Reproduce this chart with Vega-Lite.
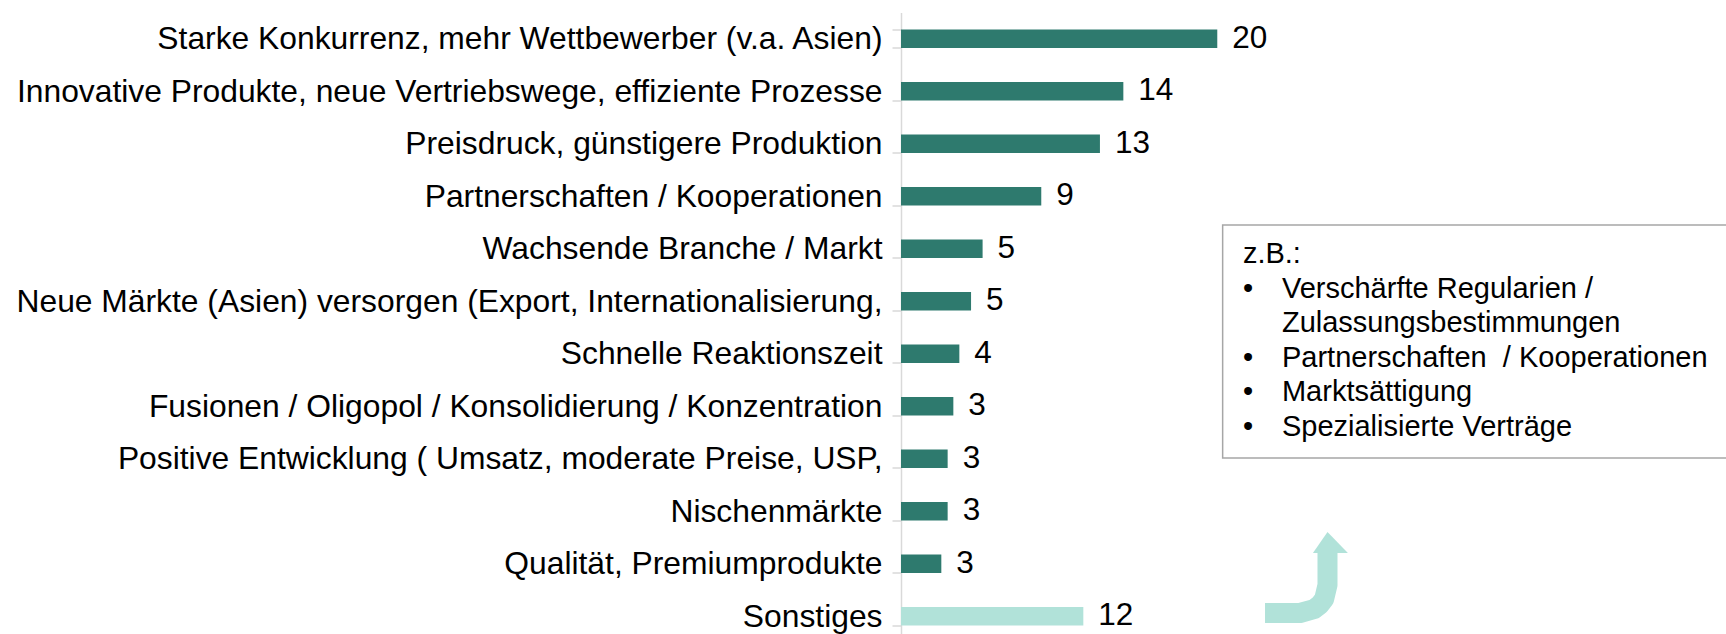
{
  "$schema": "https://vega.github.io/schema/vega-lite/v6.json",
  "autosize": {"type": "none"},
  "padding": {"left": 901, "top": 12.5, "right": 0, "bottom": 0},
  "width": 825,
  "height": 630,
  "config": {"view": {"stroke": null}, "font": "Liberation Sans"},
  "datasets": {
    "bars": [
      {"Kategorie": "Starke Konkurrenz, mehr Wettbewerber (v.a. Asien)", "Wert": 20, "Beschriftung": "20", "Gruppe": "Haupt"},
      {"Kategorie": "Innovative Produkte, neue Vertriebswege, effiziente Prozesse", "Wert": 14.06, "Beschriftung": "14", "Gruppe": "Haupt"},
      {"Kategorie": "Preisdruck, günstigere Produktion", "Wert": 12.58, "Beschriftung": "13", "Gruppe": "Haupt"},
      {"Kategorie": "Partnerschaften / Kooperationen", "Wert": 8.87, "Beschriftung": "9", "Gruppe": "Haupt"},
      {"Kategorie": "Wachsende Branche / Markt", "Wert": 5.16, "Beschriftung": "5", "Gruppe": "Haupt"},
      {"Kategorie": "Neue Märkte (Asien) versorgen (Export, Internationalisierung,", "Wert": 4.43, "Beschriftung": "5", "Gruppe": "Haupt"},
      {"Kategorie": "Schnelle Reaktionszeit", "Wert": 3.69, "Beschriftung": "4", "Gruppe": "Haupt"},
      {"Kategorie": "Fusionen / Oligopol / Konsolidierung / Konzentration", "Wert": 3.31, "Beschriftung": "3", "Gruppe": "Haupt"},
      {"Kategorie": "Positive Entwicklung ( Umsatz, moderate Preise, USP,", "Wert": 2.95, "Beschriftung": "3", "Gruppe": "Haupt"},
      {"Kategorie": "Nischenmärkte", "Wert": 2.95, "Beschriftung": "3", "Gruppe": "Haupt"},
      {"Kategorie": "Qualität, Premiumprodukte", "Wert": 2.55, "Beschriftung": "3", "Gruppe": "Haupt"},
      {"Kategorie": "Sonstiges", "Wert": 11.53, "Beschriftung": "12", "Gruppe": "Sonstiges"}
    ],
    "box": [
      {"x1": 20.34, "x2": 60, "r1": 4.548, "r2": 8.986}
    ],
    "notes": [
      {"nx": 21.62, "nr": 5.271, "txt": "z.B.:"},
      {"nx": 21.62, "nr": 5.931, "txt": "•"},
      {"nx": 24.09, "nr": 5.931, "txt": "Verschärfte Regularien /"},
      {"nx": 24.09, "nr": 6.590, "txt": "Zulassungsbestimmungen"},
      {"nx": 21.62, "nr": 7.249, "txt": "•"},
      {"nx": 24.09, "nr": 7.249, "txt": "Partnerschaften \u00a0/ Kooperationen"},
      {"nx": 21.62, "nr": 7.908, "txt": "•"},
      {"nx": 24.09, "nr": 7.908, "txt": "Marktsättigung"},
      {"nx": 21.62, "nr": 8.567, "txt": "•"},
      {"nx": 24.09, "nr": 8.567, "txt": "Spezialisierte Verträge"}
    ],
    "arrow": [
      {"o": 1, "ax": 23.02, "ar": 11.938},
      {"o": 2, "ax": 25.23, "ar": 11.938},
      {"o": 3, "ax": 26.11, "ar": 11.866},
      {"o": 4, "ax": 26.48, "ar": 11.782},
      {"o": 5, "ax": 26.76, "ar": 11.671},
      {"o": 6, "ax": 26.97, "ar": 11.405},
      {"o": 7, "ax": 26.97, "ar": 10.761}
    ],
    "head": [
      {"hx": 26.05, "hy": 10.795, "hy2": 10.795},
      {"hx": 26.97, "hy": 10.395, "hy2": 10.795},
      {"hx": 28.26, "hy": 10.795, "hy2": 10.795}
    ]
  },
  "layer": [
    {
      "data": {"name": "bars"},
      "encoding": {
        "y": {
          "field": "Kategorie",
          "type": "nominal",
          "sort": null,
          "scale": {"paddingInner": 0.65, "paddingOuter": 0.325},
          "axis": {
            "title": null,
            "domainColor": "#d9d9d9",
            "domainWidth": 1.5,
            "tickColor": "#d9d9d9",
            "tickWidth": 1.5,
            "tickSize": 9,
            "tickBand": "extent",
            "labelFont": "Liberation Sans",
            "labelFontSize": 31.8,
            "labelColor": "#000000",
            "labelPadding": 10,
            "labelLimit": 1000
          }
        },
        "x": {
          "field": "Wert",
          "type": "quantitative",
          "scale": {"domain": [0, 52.17], "nice": false},
          "axis": null
        }
      },
      "layer": [
        {
          "mark": {"type": "bar"},
          "encoding": {
            "color": {
              "field": "Gruppe",
              "type": "nominal",
              "scale": {"domain": ["Haupt", "Sonstiges"], "range": ["#2e7a6e", "#b1e2d9"]},
              "legend": null
            }
          }
        },
        {
          "mark": {"type": "text", "align": "left", "baseline": "middle", "dx": 15, "fontSize": 31.5, "color": "#000000", "font": "Liberation Sans"},
          "encoding": {"text": {"field": "Beschriftung"}}
        }
      ]
    },
    {
      "layer": [
        {
          "data": {"name": "box"},
          "mark": {"type": "rect", "fill": "#ffffff", "stroke": "#a6a6a6", "strokeWidth": 1.5},
          "encoding": {
            "x": {"field": "x1", "type": "quantitative", "scale": {"domain": [0, 52.17], "nice": false}, "axis": null},
            "x2": {"field": "x2"},
            "y": {"field": "r1", "type": "quantitative", "scale": {"domain": [0.5, 12.5], "reverse": true, "nice": false, "zero": false}, "axis": null},
            "y2": {"field": "r2"}
          }
        },
        {
          "data": {"name": "notes"},
          "mark": {"type": "text", "align": "left", "baseline": "alphabetic", "fontSize": 29, "color": "#000000", "font": "Liberation Sans"},
          "encoding": {
            "x": {"field": "nx", "type": "quantitative", "axis": null},
            "y": {"field": "nr", "type": "quantitative", "axis": null},
            "text": {"field": "txt"}
          }
        },
        {
          "data": {"name": "arrow"},
          "mark": {"type": "line", "color": "#b1e2d9", "strokeWidth": 20, "strokeCap": "butt", "strokeJoin": "round"},
          "encoding": {
            "x": {"field": "ax", "type": "quantitative", "axis": null},
            "y": {"field": "ar", "type": "quantitative", "axis": null},
            "order": {"field": "o"}
          }
        },
        {
          "data": {"name": "head"},
          "mark": {"type": "area", "color": "#b1e2d9"},
          "encoding": {
            "x": {"field": "hx", "type": "quantitative", "axis": null},
            "y": {"field": "hy", "type": "quantitative", "axis": null},
            "y2": {"field": "hy2"}
          }
        }
      ]
    }
  ],
  "resolve": {"scale": {"y": "independent"}}
}
